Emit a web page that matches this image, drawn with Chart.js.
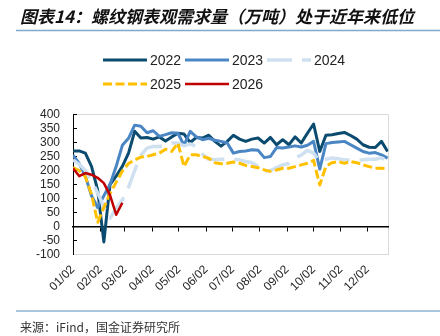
<!DOCTYPE html>
<html><head><meta charset="utf-8">
<script src="https://cdn.jsdelivr.net/npm/chart.js@4.4.1/dist/chart.umd.min.js"></script>
<style>html,body{margin:0;padding:0;background:#fff;}canvas{display:block;}</style>
</head><body>
<canvas id="c" width="440" height="336"></canvas>
<script>
// ---- data (weekly apparent demand, 万吨) ----
const seriesNames = ['2022', '2023', '2024', '2025', '2026'];
const v2022 = [270,270,262,215,130,-55,150,180,215,262,340,316,318,312,320,305,320,333,330,300,318,316,326,304,287,304,326,312,304,312,316,298,318,292,310,292,320,298,333,366,268,326,328,332,336,325,312,292,283,282,304,268];
const v2023 = [255,225,180,110,68,110,150,215,290,315,362,358,335,342,322,328,335,333,290,340,320,310,315,308,304,298,262,268,270,274,272,246,250,282,280,284,288,284,290,304,205,296,300,302,304,292,280,268,262,264,256,244];
const v2024 = [238,222,200,165,120,70,30,65,95,140,200,255,280,286,286,290,298,298,288,295,286,258,240,238,240,241,240,238,232,228,215,196,200,210,220,225,245,255,272,262,232,240,245,242,238,236,236,238,240,240,245,235];
const v2025 = [210,200,178,115,15,68,118,158,198,225,238,248,250,256,262,276,268,298,214,256,256,250,244,228,224,226,230,226,218,214,210,202,197,202,208,208,214,220,226,236,148,215,228,232,226,232,228,220,214,208,208,206];
const v2026 = [208,180,191,185,174,155,112,42,85];
const daysPerWeek = 7;
const monthTickDays = [0,31,59,90,120,151,181,212,243,273,304,334];
const monthTickLabels = ['01/02','02/02','03/02','04/02','05/02','06/02','07/02','08/02','09/02','10/02','11/02','12/02'];
const yMin = -100, yMax = 400, yStep = 50;
const dayMax = 358;

const titleText = '图表14：螺纹钢表观需求量（万吨）处于近年来低位';
const sourceText = '来源：iFind，国金证券研究所';

const toPts = arr => arr.map((v, i) => ({x: i * daysPerWeek, y: v}));
const styles = [
  {color: '#0b4b70', width: 3, dash: []},
  {color: '#4a85c4', width: 3, dash: []},
  {color: '#cfe0f1', width: 3.5, dash: [25, 10]},
  {color: '#ffc000', width: 3, dash: [9, 3.5]},
  {color: '#c00000', width: 2.5, dash: []}
];
const allValues = [v2022, v2023, v2024, v2025, v2026];

const datasets = allValues.map((vals, i) => ({
  label: seriesNames[i],
  data: toPts(vals),
  borderColor: styles[i].color,
  backgroundColor: styles[i].color,
  borderWidth: styles[i].width,
  borderDash: styles[i].dash,
  borderJoinStyle: 'round',
  pointRadius: 0,
  tension: 0,
  fill: false,
  order: 5 - i,
  xAxisID: 'x',
  yAxisID: 'y'
}));

const setMonthTicks = s => { s.ticks = monthTickDays.map(v => ({value: v})); };
const tickFont = {family: '"Liberation Sans", Arial, sans-serif', size: 12};

const decor = {
  id: 'decor',
  beforeDraw(chart) {
    const {ctx, chartArea: a} = chart;
    ctx.save();
    ctx.fillStyle = '#fff';
    ctx.fillRect(0, 0, chart.width, chart.height);
    ctx.strokeStyle = '#d9d9d9';
    ctx.lineWidth = 1;
    ctx.beginPath();
    ctx.moveTo(a.left, a.top);
    ctx.lineTo(a.right, a.top);
    ctx.lineTo(a.right, a.bottom);
    ctx.stroke();
    ctx.restore();
  },
  afterDraw(chart) {
    const ctx = chart.ctx;
    ctx.save();
    // title
    ctx.fillStyle = '#111';
    ctx.font = 'italic bold 17px "Noto Sans CJK SC", sans-serif';
    ctx.textBaseline = 'middle';
    ctx.textAlign = 'left';
    ctx.fillText(titleText, 20, 17);
    // title rule
    ctx.strokeStyle = '#7fa8cb';
    ctx.lineWidth = 1.5;
    ctx.beginPath(); ctx.moveTo(16, 30.5); ctx.lineTo(440, 30.5); ctx.stroke();
    // legend
    const rowsY = [60, 84];
    const left0 = 103, stride = 82, lineLen = 44, gap = 3, perRow = 3;
    ctx.font = '14px "Liberation Sans", Arial, sans-serif';
    chart.data.datasets.forEach((ds, i) => {
      const row = Math.floor(i / perRow), col = i % perRow;
      const x = left0 + col * stride, y = rowsY[row];
      ctx.strokeStyle = ds.borderColor;
      ctx.lineWidth = ds.borderWidth;
      ctx.setLineDash(ds.borderDash || []);
      ctx.lineCap = 'butt';
      ctx.beginPath(); ctx.moveTo(x, y); ctx.lineTo(x + lineLen, y); ctx.stroke();
      ctx.setLineDash([]);
      ctx.fillStyle = '#222';
      ctx.fillText(ds.label, x + lineLen + gap, y + 1);
    });
    // footer rule
    ctx.strokeStyle = '#a9c6da';
    ctx.lineWidth = 2;
    ctx.beginPath(); ctx.moveTo(16, 311); ctx.lineTo(440, 311); ctx.stroke();
    // source
    ctx.fillStyle = '#333';
    ctx.font = '12px "Noto Sans CJK SC", sans-serif';
    ctx.fillText(sourceText, 20, 327);
    ctx.restore();
  }
};

new Chart(document.getElementById('c'), {
  type: 'line',
  data: {datasets},
  options: {
    responsive: false,
    animation: false,
    devicePixelRatio: 1,
    layout: {padding: {top: 114.5, right: 51.5, left: 0, bottom: 0}},
    plugins: {legend: {display: false}, tooltip: {enabled: false}, title: {display: false}},
    scales: {
      x: {
        type: 'linear', position: 'bottom', min: 0, max: dayMax,
        afterBuildTicks: setMonthTicks,
        afterFit: s => { s.height = 81.5; },
        grid: {display: false, drawTicks: false},
        border: {display: true, color: '#d9d9d9', width: 1},
        ticks: {
          autoSkip: false, minRotation: 45, maxRotation: 45, padding: 8,
          font: tickFont, color: '#262626',
          callback: v => monthTickLabels[monthTickDays.indexOf(v)]
        }
      },
      x0: {
        type: 'linear', axis: 'x', position: {y: 0}, min: 0, max: dayMax,
        afterBuildTicks: setMonthTicks,
        grid: {drawOnChartArea: false, drawTicks: true, tickLength: 4, color: '#000', lineWidth: 1},
        border: {display: true, color: '#000', width: 1.5},
        ticks: {display: false}
      },
      y: {
        type: 'linear', position: 'left', min: yMin, max: yMax,
        afterFit: s => { s.width = 73; },
        ticks: {stepSize: yStep, padding: 17, font: tickFont, color: '#262626', autoSkip: false},
        grid: {drawOnChartArea: false, drawTicks: true, tickLength: -4, color: '#000', lineWidth: 1},
        border: {display: true, color: '#000', width: 1}
      }
    }
  },
  plugins: [decor]
});
</script>
</body></html>
